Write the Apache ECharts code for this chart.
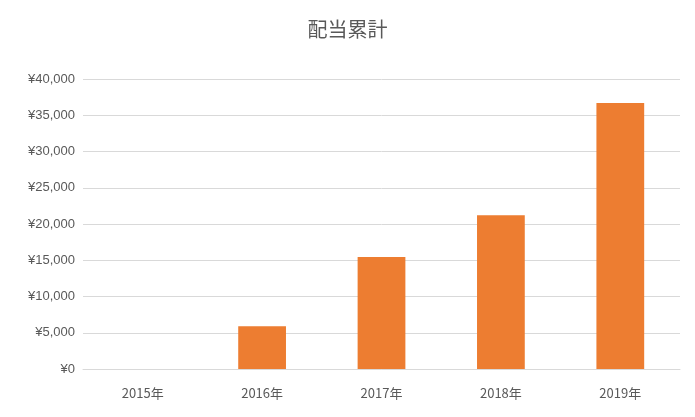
<!DOCTYPE html>
<html><head><meta charset="utf-8">
<script src="https://cdn.jsdelivr.net/npm/echarts@6/dist/echarts.min.js"></script>
<style>html,body{margin:0;padding:0;background:#fff}#c{width:695px;height:417px}</style>
</head><body><div id="c"></div>
<script>
const categories = ['2015年','2016年','2017年','2018年','2019年'];
const values = [0, 5900, 15450, 21200, 36700];
const chart = echarts.init(document.getElementById('c'));
chart.setOption({
  title:{text:'配当累計',left:'center',top:14,textStyle:{fontFamily:'Noto Sans CJK JP',fontSize:20,fontWeight:'normal',color:'#595959'}},
  grid:{left:83,right:15,top:79,bottom:48},
  xAxis:{type:'category',data:categories,axisTick:{show:false},
    axisLine:{lineStyle:{color:'#d9d9d9'}},
    axisLabel:{color:'#595959',fontSize:13,margin:18,fontFamily:'Noto Sans CJK JP'}},
  yAxis:{type:'value',min:0,max:40000,interval:5000,
    axisLabel:{color:'#595959',fontSize:13,fontFamily:'Liberation Sans',formatter:v=>'¥'+v.toLocaleString('en-US')},
    splitLine:{lineStyle:{color:'#d9d9d9'}}},
  series:[{type:'bar',data:values,barWidth:'40%',itemStyle:{color:'#ed7d31'}}]
});
</script></body></html>
